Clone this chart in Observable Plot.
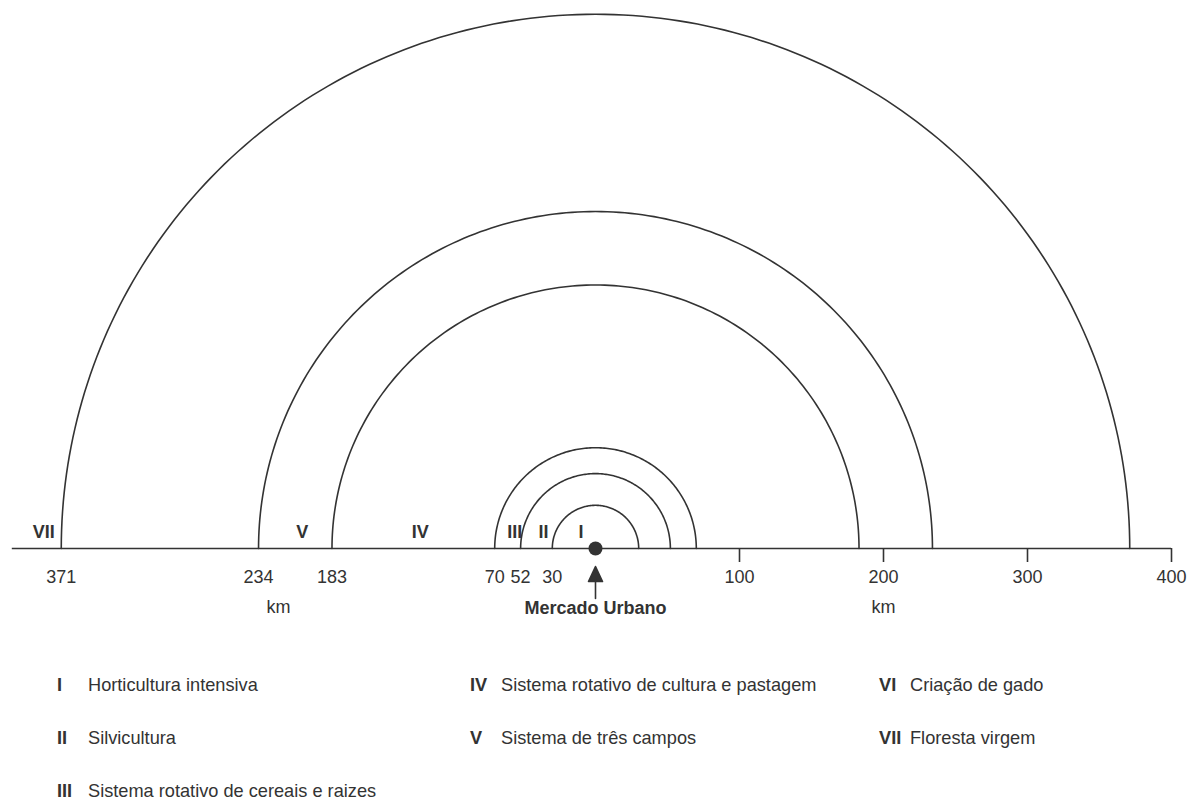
<!DOCTYPE html>
<html>
<head>
<meta charset="utf-8">
<script src="https://cdn.jsdelivr.net/npm/d3@7"></script>
<script src="https://cdn.jsdelivr.net/npm/@observablehq/plot@0.6"></script>
<style>
  body { margin: 0; background: #fff; font-family: "Liberation Sans", Arial, sans-serif; color: #333; }
  #chart svg { display: block; }
  #legend { position: relative; width: 1196px; height: 160px; }
  .item { position: absolute; display: flex; align-items: center; font-size: 18.2px; line-height: 22px; white-space: nowrap; }
  .num { font-weight: bold; width: 31px; }
</style>
</head>
<body>
<div id="chart"></div>
<div id="legend"></div>
<script>
// ---- data ----
const ringKm = [30, 52, 70, 183, 234, 371];           // ring boundaries (km)
const rightTicksKm = [100, 200, 300, 400];            // scale ticks to the right
const zoneNumerals = ["I", "II", "III", "IV", "V", "VI", "VII"];
const zoneNames = [
  "Horticultura intensiva",
  "Silvicultura",
  "Sistema rotativo de cereais e raizes",
  "Sistema rotativo de cultura e pastagem",
  "Sistema de três campos",
  "Criação de gado",
  "Floresta virgem"
];
const zonesOnAxis = ["I", "II", "III", "IV", "V", "VII"];
const centerLabel = "Mercado Urbano";
const unitLabel = "km";
const axisFarKm = 405;

// ---- layout ----
const W = 1196, H = 640, baseY = 548, originX = 595, k = 1.44;
const ink = "#333";

// semicircle geometry from ring radii
const arcs = ringKm.flatMap(r => d3.range(0, 181, 1).map(a => ({
  r, x: r * Math.cos(a * Math.PI / 180), y: r * Math.sin(a * Math.PI / 180)
})));

// zone numeral positions: midpoint between bounding rings
const bounds = [0, ...ringKm, axisFarKm];
const zoneLabels = zoneNumerals.map((n, i) => ({ n, km: -(bounds[i] + bounds[i + 1]) / 2 }))
  .filter(d => zonesOnAxis.includes(d.n));

const arrowShape = {
  draw(ctx, l) {
    ctx.moveTo(0, 0);
    ctx.lineTo(0, -l + 12);
    ctx.moveTo(-7, -l + 15);
    ctx.lineTo(0, -l);
    ctx.lineTo(7, -l + 15);
    ctx.closePath();
  }
};

const chart = Plot.plot({
  width: W,
  height: H,
  marginTop: 0,
  marginBottom: H - baseY,
  marginLeft: 0,
  marginRight: 0,
  x: { domain: [-originX / k, (W - originX) / k], label: null },
  y: { domain: [0, baseY / k], axis: null },
  style: { fontFamily: '"Liberation Sans", Arial, sans-serif', fontSize: "18px", color: ink, background: "#fff" },
  marks: [
    Plot.ruleY([0], { x1: -axisFarKm, x2: d3.max(rightTicksKm), stroke: ink, strokeWidth: 1.6 }),
    Plot.line(arcs, { x: "x", y: "y", z: "r", stroke: ink, strokeWidth: 1.6 }),
    Plot.axisX({ ticks: rightTicksKm, tickSize: 14, tickPadding: 8, strokeWidth: 1.6, label: null, fontSize: 18 }),
    Plot.axisX({ ticks: ringKm.map(d => -d), tickSize: 0, tickPadding: 22, tickFormat: d => Math.abs(d), label: null, fontSize: 18 }),
    Plot.text([unitLabel], { x: [-ringKm[4]], y: [0], dx: 20, dy: 59, fill: ink, fontSize: 18 }),
    Plot.text([unitLabel], { x: [rightTicksKm[1]], y: [0], dy: 59, fill: ink, fontSize: 18 }),
    Plot.text(zoneLabels, { x: d => d.km, y: () => 0, text: "n", dx: 7, dy: -16, fontWeight: "bold", fill: ink, fontSize: 18 }),
    Plot.dot([0], { x: [0], y: [0], r: 7, fill: ink, stroke: null }),
    Plot.vector([0], { x: [0], y: [0], dy: 50, length: 32, rotate: 0, anchor: "start", shape: arrowShape, fill: ink, stroke: ink, strokeWidth: 1.6 }),
    Plot.text([centerLabel], { x: [0], y: [0], dy: 60, fontWeight: "bold", fill: ink, fontSize: 18 })
  ]
});
document.getElementById("chart").append(chart);

// ---- legend ----
const legendColumns = [[0, 1, 2], [3, 4], [5, 6]];
const colLeft = [57, 470, 879];
const rowTop = [34, 87, 140];
const legend = document.getElementById("legend");
legendColumns.forEach((col, c) => col.forEach((i, r) => {
  const div = document.createElement("div");
  div.className = "item";
  div.style.left = colLeft[c] + "px";
  div.style.top = rowTop[r] + "px";
  const n = document.createElement("span");
  n.className = "num";
  n.textContent = zoneNumerals[i];
  const t = document.createElement("span");
  t.textContent = zoneNames[i];
  div.append(n, t);
  legend.append(div);
}));
</script>
</body>
</html>
